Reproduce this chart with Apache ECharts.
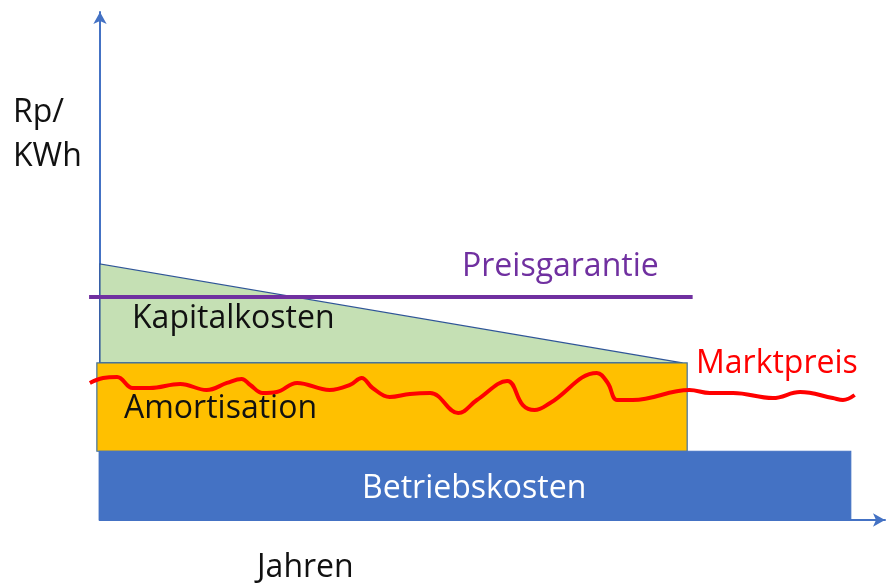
<!DOCTYPE html>
<html>
<head>
<meta charset="utf-8">
<script src="https://cdn.jsdelivr.net/npm/echarts@6/dist/echarts.min.js"></script>
<style>
  html, body { margin: 0; padding: 0; background: #fff; }
  #chart { width: 887px; height: 587px; }
</style>
</head>
<body>
<div id="chart"></div>
<script>
// corner points of the cost blocks, in (Jahre, Rp/KWh) units
const betriebskosten = [[-0.1, 0], [96.4, 0], [96.4, 13.7], [-0.1, 13.7]]
const amortisation = [[-0.4, 13.7], [75.4, 13.7], [75.4, 31.3], [-0.4, 31.3]]
const kapitalkosten = [[0, 31.3], [0, 51.0], [74.8, 31.3]]
const preisgarantie = [[-1.4, 44.4], [76.1, 44.4]]
const marktpreis = [
  [-1.3, 27.3], [0.4, 28.3], [2.2, 28.5], [4.2, 26.3], [6.4, 26.3], [10.3, 27.1],
  [13.7, 25.9], [16.3, 27.3], [18.2, 28.1], [19.3, 26.9], [20.9, 25.3], [22.7, 25.5],
  [25.3, 27.3], [29.5, 25.9], [32.1, 26.9], [33.6, 28.3], [35.0, 26.3], [37.2, 24.5],
  [39.8, 25.1], [42.4, 25.3], [46.0, 21.3], [48.4, 23.9], [52.3, 27.7], [54.3, 22.9],
  [55.8, 21.9], [57.8, 23.3], [63.8, 29.3], [65.2, 27.3], [66.4, 23.9], [68.4, 23.9],
  [75.7, 25.9], [78.3, 25.3], [81.3, 25.3], [86.4, 24.3], [89.9, 25.5], [94.1, 24.3],
  [95.4, 23.9], [96.9, 24.9],
]

const FONT = '"Open Sans", Lato, sans-serif'
const axisColor = '#4472C4'

function polygonSeries(name, pts, fill, stroke) {
  return {
    name,
    type: 'custom',
    coordinateSystem: 'cartesian2d',
    data: pts,
    clip: false,
    renderItem(params, api) {
      if (params.dataIndex !== 0) return null
      return {
        type: 'polygon',
        shape: { points: pts.map((p) => api.coord(p)) },
        style: { fill, stroke, lineWidth: 1.2 },
      }
    },
    silent: true,
  }
}

function label(text, x, y, color) {
  return {
    type: 'text',
    left: x,
    top: y,
    style: { text, fill: color, font: `32px ${FONT}` },
    z: 100,
  }
}

const hidden = {
  axisLine: { show: false },
  axisTick: { show: false },
  axisLabel: { show: false },
  splitLine: { show: false },
}
const arrowLine = {
  show: true,
  onZero: false,
  lineStyle: { color: axisColor, width: 2 },
  symbol: ['none', 'arrow'],
  symbolSize: [10, 12],
}

const chart = echarts.init(document.getElementById('chart'))
chart.setOption({
  animation: false,
  // grid 0 holds the marks (a little room left of zero), grid 1 draws the arrow axes
  grid: [
    { left: 84.4, right: 2, top: 12, bottom: 67 },
    { left: 100, right: 2, top: 12, bottom: 67 },
  ],
  xAxis: [
    { type: 'value', gridIndex: 0, min: -2, max: 100.8, ...hidden },
    { type: 'value', gridIndex: 1, min: 0, max: 100.8, ...hidden, axisLine: arrowLine },
  ],
  yAxis: [
    { type: 'value', gridIndex: 0, min: 0, max: 101.2, ...hidden },
    { type: 'value', gridIndex: 1, min: 0, max: 101.2, ...hidden, axisLine: arrowLine },
  ],
  series: [
    polygonSeries('Kapitalkosten', kapitalkosten, '#C5E0B4', '#2F5597'),
    polygonSeries('Amortisation', amortisation, '#FFC000', '#41719C'),
    polygonSeries('Betriebskosten', betriebskosten, '#4472C4', '#4472C4'),
    {
      name: 'Preisgarantie',
      type: 'line',
      data: preisgarantie,
      showSymbol: false,
      lineStyle: { color: '#7030A0', width: 4 },
      z: 5,
    },
    {
      name: 'Marktpreis',
      type: 'line',
      data: marktpreis,
      clip: false,
      smooth: 0.4,
      showSymbol: false,
      lineStyle: { color: '#FF0000', width: 4 },
      z: 6,
    },
  ],
  graphic: [
    label('Rp/', 13, 97, '#111'),
    label('KWh', 13, 141, '#111'),
    label('Preisgarantie', 462, 251, '#7030A0'),
    label('Kapitalkosten', 132, 303, '#111'),
    label('Marktpreis', 696, 348, '#FF0000'),
    label('Amortisation', 124, 393, '#111'),
    label('Betriebskosten', 362, 473, '#fff'),
    label('Jahren', 257, 552, '#111'),
  ],
})
</script>
</body>
</html>
